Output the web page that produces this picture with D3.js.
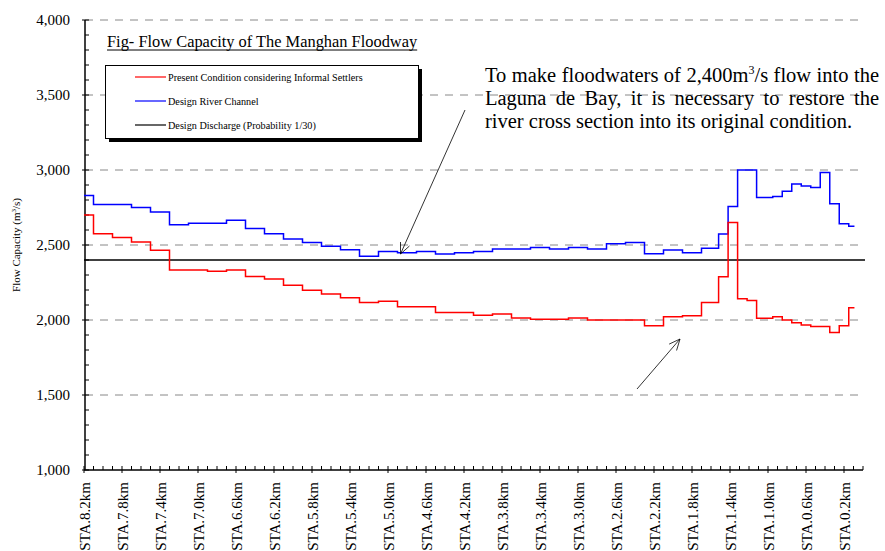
<!DOCTYPE html>
<html>
<head>
<meta charset="utf-8">
<script src="https://cdn.jsdelivr.net/npm/d3@7/dist/d3.min.js"></script>
<style>
  body { margin: 0; background: #fff; }
  svg { display: block; font-family: "Liberation Serif", "Times New Roman", serif; }
</style>
</head>
<body>
<div id="chart"></div>
<script>
var width = 885
var height = 551

// reach boundaries (km, upstream edge of each reach), last reach ends at reachEnd
var reachStart = [8.2, 8.1, 7.9, 7.7, 7.5, 7.3, 7.1, 6.9, 6.7, 6.5, 6.3, 6.1, 5.9, 5.7, 5.5, 5.3, 5.1,
                  4.9, 4.7, 4.5, 4.3, 4.1, 3.9, 3.7, 3.5, 3.3, 3.1, 2.9, 2.7, 2.5, 2.3, 2.1, 1.9, 1.7,
                  1.52, 1.42, 1.32, 1.22, 1.12, 0.95, 0.85, 0.75, 0.65, 0.55, 0.45, 0.35, 0.25, 0.15]
var reachEnd = 0.09

var presentCapacity = [2700, 2575, 2550, 2520, 2465, 2333, 2333, 2325, 2333, 2290,
                       2273, 2232, 2198, 2173, 2149, 2117, 2125, 2089, 2089, 2050,
                       2050, 2032, 2040, 2014, 2005, 2005, 2014, 2000, 2000, 2000,
                       1962, 2022, 2029, 2117, 2289, 2650, 2142, 2130, 2011, 2022,
                       2000, 1982, 1967, 1956, 1956, 1916, 1962, 2082]
var designCapacity = [2830, 2770, 2770, 2750, 2720, 2635, 2645, 2645, 2665, 2610,
                      2575, 2540, 2517, 2491, 2469, 2425, 2456, 2449, 2456, 2440,
                      2449, 2456, 2473, 2473, 2483, 2473, 2483, 2473, 2508, 2517,
                      2442, 2467, 2449, 2478, 2573, 2756, 3000, 3000, 2816, 2824,
                      2858, 2907, 2893, 2883, 2983, 2775, 2642, 2625]
var designDischarge = 2400

var stationLabels = ["STA.8.2km", "STA.7.8km", "STA.7.4km", "STA.7.0km", "STA.6.6km", "STA.6.2km",
                     "STA.5.8km", "STA.5.4km", "STA.5.0km", "STA.4.6km", "STA.4.2km", "STA.3.8km",
                     "STA.3.4km", "STA.3.0km", "STA.2.6km", "STA.2.2km", "STA.1.8km", "STA.1.4km",
                     "STA.1.0km", "STA.0.6km", "STA.0.2km"]
var stationKm = [8.2, 7.8, 7.4, 7.0, 6.6, 6.2, 5.8, 5.4, 5.0, 4.6, 4.2, 3.8, 3.4, 3.0, 2.6, 2.2, 1.8, 1.4, 1.0, 0.6, 0.2]
var yTicks = [1000, 1500, 2000, 2500, 3000, 3500, 4000]

var legendItems = [
    {label: "Present Condition considering Informal Settlers", color: "#ff0000"},
    {label: "Design River Channel", color: "#0000ff"},
    {label: "Design Discharge (Probability 1/30)", color: "#000000"}
]

var svg = d3.select("#chart").append("svg")
    .attr("width", width)
    .attr("height", height)

var x = d3.scaleLinear().domain([8.2, 0]).range([84, 863])
var y = d3.scaleLinear().domain([1000, 4000]).range([470, 20])

// grid
svg.append("g").selectAll("line")
    .data(yTicks.filter(d => d > 1000))
    .enter().append("line")
    .attr("x1", x(8.2) + 1).attr("x2", x(0))
    .attr("y1", d => y(d)).attr("y2", d => y(d))
    .style("stroke", "#888")
    .style("stroke-width", 1)
    .style("stroke-dasharray", "8,7")

// y axis
var yAxis = svg.append("g")
yAxis.append("line")
    .attr("x1", 85).attr("x2", 85).attr("y1", y(4000)).attr("y2", y(1000))
    .style("stroke", "#000").style("stroke-width", 1.5)
yAxis.selectAll(".ytick")
    .data(d3.range(1000, 4001, 100))
    .enter().append("line")
    .attr("x1", d => d % 500 === 0 ? 82 : 85)
    .attr("x2", 89)
    .attr("y1", d => y(d)).attr("y2", d => y(d))
    .style("stroke", "#000").style("stroke-width", 1)
yAxis.selectAll("text")
    .data(yTicks)
    .enter().append("text")
    .attr("x", 70)
    .attr("y", d => y(d))
    .attr("dy", "0.35em")
    .attr("text-anchor", "end")
    .style("font-size", "15px")
    .text(d3.format(","))

svg.append("text")
    .attr("transform", "translate(20,245) rotate(-90)")
    .attr("text-anchor", "middle")
    .style("font-size", "11px")
    .text("Flow Capacity (m")
    .append("tspan").attr("dy", -4).style("font-size", "7px").text("3")
    .select(function() { return this.parentNode })
    .append("tspan").attr("dy", 4).text("/s)")

// x axis
var xAxis = svg.append("g")
xAxis.append("line")
    .attr("x1", x(8.2)).attr("x2", x(0)).attr("y1", 470).attr("y2", 470)
    .style("stroke", "#000").style("stroke-width", 1.5)
xAxis.selectAll(".xtick")
    .data(d3.range(0, 83))
    .enter().append("line")
    .attr("x1", d => x(8.2 - d / 10)).attr("x2", d => x(8.2 - d / 10))
    .attr("y1", 466)
    .attr("y2", d => d % 4 === 0 ? 473 : 470)
    .style("stroke", "#000").style("stroke-width", 1)
xAxis.selectAll("text")
    .data(stationLabels)
    .enter().append("text")
    .attr("transform", (d, i) => "translate(" + (x(stationKm[i]) + 1) + ",482) rotate(-90)")
    .attr("dy", "0.35em")
    .attr("text-anchor", "end")
    .style("font-size", "15px")
    .text(d => d)

// series
var line = d3.line()
    .x(d => x(d[0]))
    .y(d => y(d[1]))
    .curve(d3.curveStepAfter)

function toPoints(values) {
    var pts = reachStart.map((k, i) => [k, values[i]])
    pts.push([reachEnd, values[values.length - 1]])
    return pts
}

svg.append("line")
    .attr("x1", x(8.2)).attr("x2", x(0) + 2)
    .attr("y1", y(designDischarge)).attr("y2", y(designDischarge))
    .style("stroke", "#000").style("stroke-width", 1.5)

svg.append("path")
    .datum(toPoints(designCapacity))
    .attr("d", line)
    .style("fill", "none").style("stroke", "#0000ff").style("stroke-width", 1.5)

svg.append("path")
    .datum(toPoints(presentCapacity))
    .attr("d", line)
    .style("fill", "none").style("stroke", "#ff0000").style("stroke-width", 1.5)

// title
var title = svg.append("text")
    .attr("x", 107).attr("y", 47)
    .style("font-size", "16.4px")
    .text("Fig- Flow Capacity of The Manghan Floodway")
var tw = title.node().getComputedTextLength()
svg.append("line")
    .attr("x1", 107).attr("x2", 107 + tw).attr("y1", 50).attr("y2", 50)
    .style("stroke", "#000").style("stroke-width", 1)

// legend
var lg = svg.append("g")
lg.append("rect")
    .attr("x", 109).attr("y", 69).attr("width", 313).attr("height", 73)
    .style("fill", "#000")
lg.append("rect")
    .attr("x", 105.5).attr("y", 65.5).attr("width", 313).attr("height", 73)
    .style("fill", "#fff").style("stroke", "#000").style("stroke-width", 1)
var li = lg.selectAll(".item")
    .data(legendItems)
    .enter().append("g")
    .attr("transform", (d, i) => "translate(0," + (77 + i * 24) + ")")
li.append("line")
    .attr("x1", 135).attr("x2", 166)
    .style("stroke", d => d.color).style("stroke-width", 1.2)
li.append("text")
    .attr("x", 168).attr("dy", "0.35em")
    .style("font-size", "10.2px")
    .text(d => d.label)

// annotation, justified
var noteLines = [
    ["To", "make", "floodwaters", "of", "2,400m³/s", "flow", "into", "the"],
    ["Laguna", "de", "Bay,", "it", "is", "necessary", "to", "restore", "the"],
    ["river", "cross", "section", "into", "its", "original", "condition."]
]
var noteLeft = 485, noteRight = 879
noteLines.forEach(function(words, li) {
    var g = svg.append("g")
    var texts = words.map(function(w) {
        var t = g.append("text")
            .attr("y", 82 + li * 23)
            .style("font-size", "20.5px")
        if (w.indexOf("³") >= 0) {
            var parts = w.split("³")
            t.append("tspan").text(parts[0])
            t.append("tspan").attr("dy", -8).style("font-size", "12px").text("3")
            t.append("tspan").attr("dy", 8).text(parts[1])
        } else {
            t.text(w)
        }
        return t
    })
    var widths = texts.map(t => t.node().getComputedTextLength())
    var total = d3.sum(widths)
    var space = li < 2 ? (noteRight - noteLeft - total) / (words.length - 1) : 5.1
    var cx = noteLeft
    texts.forEach(function(t, i) {
        t.attr("x", cx)
        cx += widths[i] + space
    })
})

// arrows
function arrow(x1, y1, x2, y2) {
    var a = Math.atan2(y2 - y1, x2 - x1)
    var len = 12, spread = 0.42
    svg.append("line")
        .attr("x1", x1).attr("y1", y1).attr("x2", x2).attr("y2", y2)
        .style("stroke", "#000").style("stroke-width", 0.8)
    ;[-spread, spread].forEach(function(s) {
        svg.append("line")
            .attr("x1", x2).attr("y1", y2)
            .attr("x2", x2 - len * Math.cos(a + s))
            .attr("y2", y2 - len * Math.sin(a + s))
            .style("stroke", "#000").style("stroke-width", 0.8)
    })
}
arrow(465, 110, 400.5, 254)
arrow(637, 389, 680, 339)
</script>
</body>
</html>
